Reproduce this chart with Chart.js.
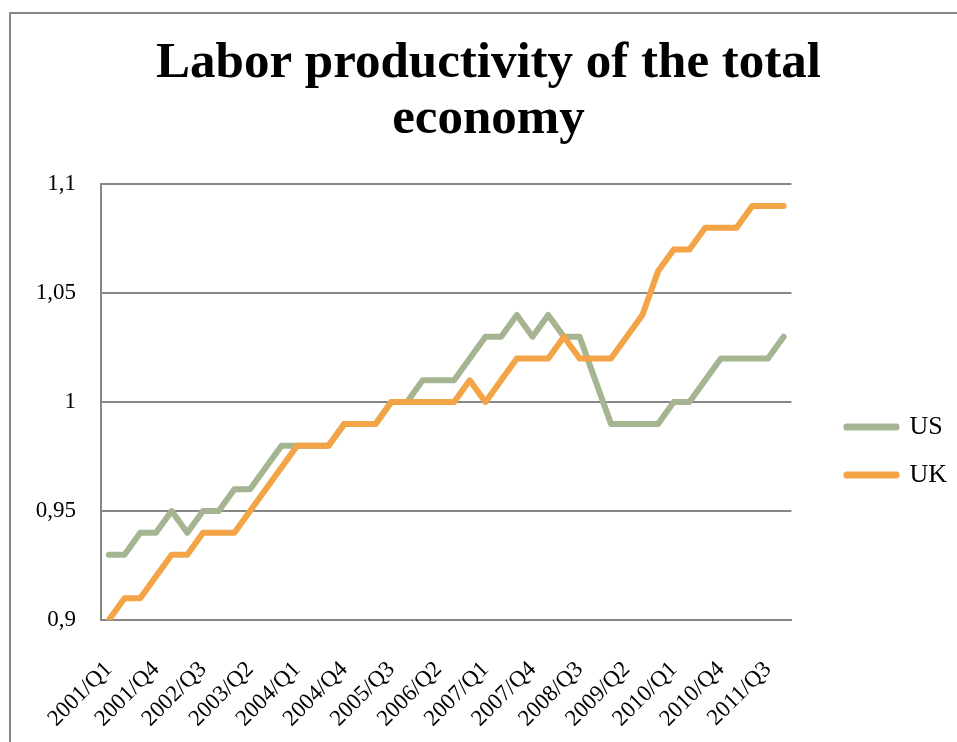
<!DOCTYPE html>
<html>
<head>
<meta charset="utf-8">
<title>Labor productivity of the total economy</title>
<script src="https://cdn.jsdelivr.net/npm/chart.js@4"></script>
<style>
  html, body { margin: 0; padding: 0; background: #fff; }
  #wrap { width: 957px; height: 742px; position: relative; }
</style>
</head>
<body>
<div id="wrap"><canvas id="prodChart"></canvas></div>
<script>
// Quarters shown on the category axis
const quarters = [
    '2001/Q1', '2001/Q2', '2001/Q3', '2001/Q4',
    '2002/Q1', '2002/Q2', '2002/Q3', '2002/Q4',
    '2003/Q1', '2003/Q2', '2003/Q3', '2003/Q4',
    '2004/Q1', '2004/Q2', '2004/Q3', '2004/Q4',
    '2005/Q1', '2005/Q2', '2005/Q3', '2005/Q4',
    '2006/Q1', '2006/Q2', '2006/Q3', '2006/Q4',
    '2007/Q1', '2007/Q2', '2007/Q3', '2007/Q4',
    '2008/Q1', '2008/Q2', '2008/Q3', '2008/Q4',
    '2009/Q1', '2009/Q2', '2009/Q3', '2009/Q4',
    '2010/Q1', '2010/Q2', '2010/Q3', '2010/Q4',
    '2011/Q1', '2011/Q2', '2011/Q3', '2011/Q4'
];

// Productivity index, US
const usValues = [
    0.93, 0.93, 0.94, 0.94, 0.95, 0.94, 0.95, 0.95,
    0.96, 0.96, 0.97, 0.98, 0.98, 0.98, 0.98, 0.99,
    0.99, 0.99, 1.00, 1.00, 1.01, 1.01, 1.01, 1.02,
    1.03, 1.03, 1.04, 1.03, 1.04, 1.03, 1.03, 1.01,
    0.99, 0.99, 0.99, 0.99, 1.00, 1.00, 1.01, 1.02,
    1.02, 1.02, 1.02, 1.03
];

// Productivity index, UK
const ukValues = [
    0.90, 0.91, 0.91, 0.92, 0.93, 0.93, 0.94, 0.94,
    0.94, 0.95, 0.96, 0.97, 0.98, 0.98, 0.98, 0.99,
    0.99, 0.99, 1.00, 1.00, 1.00, 1.00, 1.00, 1.01,
    1.00, 1.01, 1.02, 1.02, 1.02, 1.03, 1.02, 1.02,
    1.02, 1.03, 1.04, 1.06, 1.07, 1.07, 1.08, 1.08,
    1.08, 1.09, 1.09, 1.09
];

// Y axis labels (decimal comma)
const yTickLabels = ['0,9', '0,95', '1', '1,05', '1,1'];

const corUS = '#A5B592';
const corUK = '#F3A447';
const corGrade = '#878787';
const fonte = '"Liberation Serif", "Times New Roman", serif';

// Outer chart border (left and top edges only)
const moldura = {
    id: 'moldura',
    beforeDraw(chart) {
        const ctx = chart.ctx;
        ctx.save();
        ctx.strokeStyle = corGrade;
        ctx.lineWidth = 2;
        ctx.beginPath();
        ctx.moveTo(10, chart.height);
        ctx.lineTo(10, 13);
        ctx.lineTo(chart.width, 13);
        ctx.stroke();
        ctx.restore();
    }
};

const ctx = document.getElementById('prodChart').getContext('2d');
new Chart(ctx, {
    type: 'line',
    data: {
        labels: quarters,
        datasets: [{
            label: 'US',
            data: usValues,
            borderColor: corUS,
            backgroundColor: corUS,
            order: 1
        }, {
            label: 'UK',
            data: ukValues,
            borderColor: corUK,
            backgroundColor: corUK,
            order: 0
        }]
    },
    options: {
        responsive: true,
        maintainAspectRatio: false,
        animation: false,
        layout: { padding: { left: 20, right: 0, top: 0, bottom: 0 } },
        elements: {
            line: {
                borderWidth: 6,
                tension: 0,
                fill: false,
                borderJoinStyle: 'round',
                borderCapStyle: 'round'
            },
            point: { radius: 0, hoverRadius: 0 }
        },
        plugins: {
            title: {
                display: true,
                text: ['Labor productivity of the total', 'economy'],
                color: '#000',
                font: { family: fonte, size: 51, weight: 'bold', lineHeight: 1.1 },
                padding: { top: 36, bottom: 36 }
            },
            legend: {
                position: 'right',
                title: {
                    display: true,
                    text: '',
                    font: { size: 10, lineHeight: 1 },
                    padding: { top: 150, bottom: 0 }
                },
                labels: {
                    color: '#000',
                    font: { family: fonte, size: 26 },
                    boxWidth: 50,
                    boxHeight: 1,
                    padding: 22,
                    sort: (a, b) => a.datasetIndex - b.datasetIndex
                }
            },
            tooltip: { enabled: false }
        },
        scales: {
            x: {
                offset: true,
                grid: { display: false, drawTicks: false },
                border: { display: true, color: corGrade, width: 2 },
                ticks: {
                    autoSkip: false,
                    minRotation: 45,
                    maxRotation: 45,
                    padding: 36,
                    color: '#000',
                    font: { family: fonte, size: 23 },
                    callback: (v, i) => (i % 3 === 0 ? quarters[i] : '')
                },
                afterFit: (s) => { s.height = 122; }
            },
            y: {
                min: 0.9,
                max: 1.1,
                grid: { color: corGrade, lineWidth: 2, drawTicks: false },
                border: { display: true, color: corGrade, width: 2 },
                ticks: {
                    stepSize: 0.05,
                    padding: 25,
                    color: '#000',
                    font: { family: fonte, size: 23 },
                    callback: (v, i) => yTickLabels[i]
                },
                afterFit: (s) => { s.width = 81; }
            },
            // empty right-hand axis, keeps a gap before the legend
            espaco: {
                type: 'linear',
                position: 'right',
                grid: { display: false },
                border: { display: false },
                ticks: { display: false },
                afterFit: (s) => { s.width = 33; }
            }
        }
    },
    plugins: [moldura]
});
</script>
</body>
</html>
